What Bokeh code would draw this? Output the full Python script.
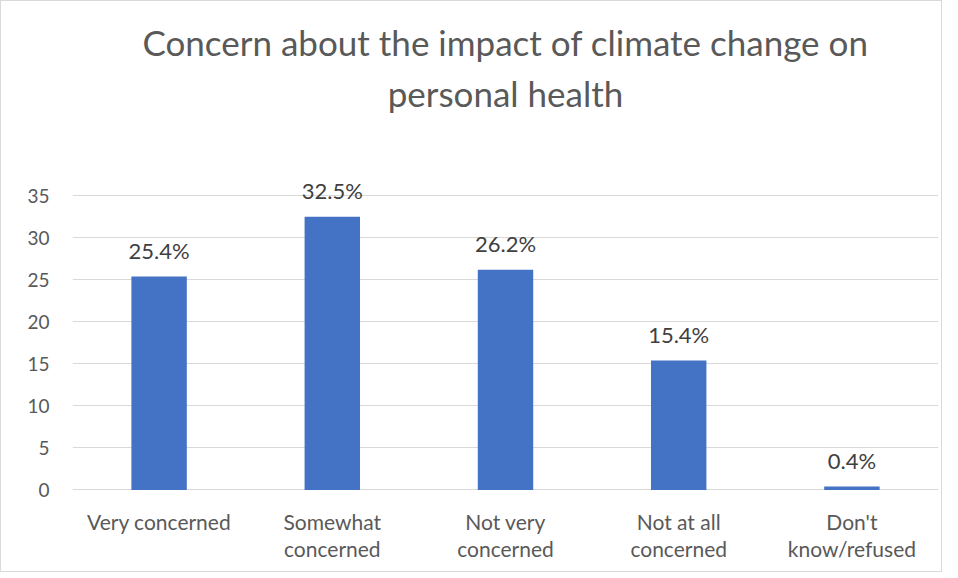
from bokeh.plotting import figure
from bokeh.models import ColumnDataSource, FixedTicker, Title
from bokeh.core.properties import value
from bokeh.embed import file_html
from bokeh.resources import INLINE

categories = ["Very concerned", "Somewhat concerned", "Not very concerned", "Not at all concerned", "Don't know/refused"]
category_labels = ["Very concerned", "Somewhat\nconcerned", "Not very\nconcerned", "Not at all\nconcerned", "Don't\nknow/refused"]
values = [25.4, 32.5, 26.2, 15.4, 0.4]
value_labels = ["25.4%", "32.5%", "26.2%", "15.4%", "0.4%"]
y_ticks = [0, 5, 10, 15, 20, 25, 30, 35]
title_lines = ["Concern about the impact of climate change on", "personal health"]

FONT = "Lato"
TEXT = "#595959"

p = figure(x_range=categories, y_range=(-9.7, 38), width=942, height=572,
           output_backend="svg", toolbar_location=None,
           min_border_left=71, min_border_right=5, min_border_top=169, min_border_bottom=2)
p.styles = {"border": "1px solid #d9d9d9", "box-sizing": "border-box"}

spacer = Title(text=" ", text_font_size="1px", standoff=47)
t2 = Title(text=title_lines[1], align="center", text_font=FONT, text_font_style="normal",
           text_font_size="35px", text_color=TEXT, standoff=14)
t1 = Title(text=title_lines[0], align="center", text_font=FONT, text_font_style="normal",
           text_font_size="35px", text_color=TEXT, standoff=0)
p.add_layout(spacer, "above")
p.add_layout(t2, "above")
p.add_layout(t1, "above")

src = ColumnDataSource(dict(cat=categories, val=values, lab=value_labels,
                            cl=category_labels, zero=[0] * len(values)))
p.vbar(x="cat", top="val", width=0.32, source=src, color="#4472C4", line_color=None)
p.text(x="cat", y="val", text="lab", source=src, text_align="center", text_baseline="alphabetic",
       y_offset=-26, text_font=value(FONT), text_font_size="22px", text_color="#404040")
p.text(x="cat", y="zero", text="cl", source=src, text_align="center", text_baseline="top",
       y_offset=19, text_font=value(FONT), text_font_size="21px", text_color=TEXT,
       text_line_height=1.1)

p.outline_line_color = None
p.xgrid.grid_line_color = None
p.ygrid.grid_line_color = "#d9d9d9"
p.ygrid.grid_line_width = 1
p.yaxis.ticker = FixedTicker(ticks=y_ticks)
p.yaxis.axis_line_color = None
p.yaxis.major_tick_line_color = None
p.yaxis.minor_tick_line_color = None
p.yaxis.major_label_text_font = FONT
p.yaxis.major_label_text_font_size = "19px"
p.yaxis.major_label_text_color = TEXT
p.yaxis.major_label_standoff = 17
p.xaxis.visible = False
p.x_range.range_padding = 0

open("out.html", "w").write(file_html(p, INLINE))
